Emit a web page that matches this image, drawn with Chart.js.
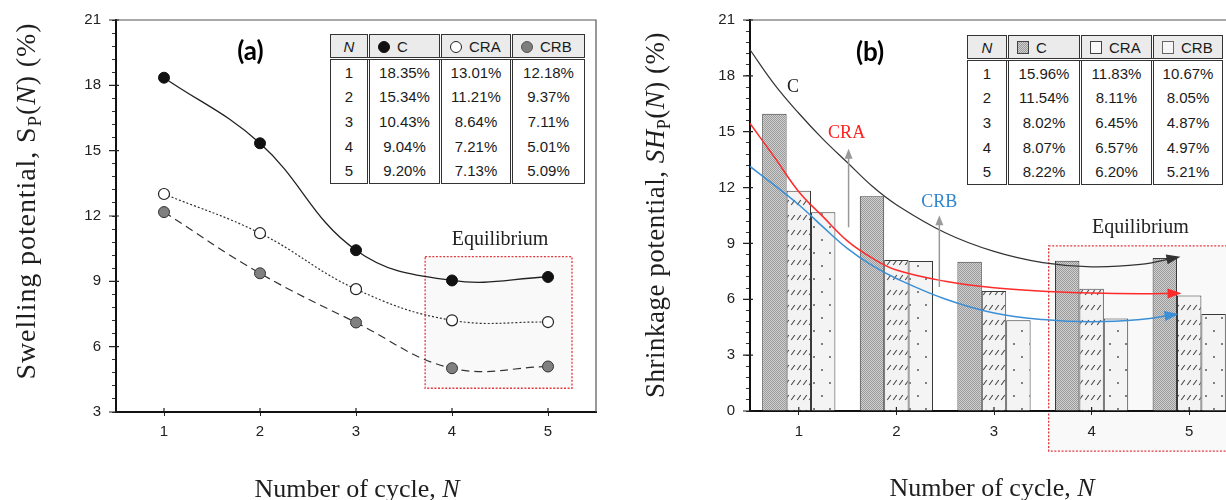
<!DOCTYPE html>
<html><head><meta charset="utf-8">
<script src="https://cdn.jsdelivr.net/npm/chart.js@4.4.1/dist/chart.umd.min.js"></script>
<style>
html,body{margin:0;padding:0;background:#fff;width:1226px;height:500px;overflow:hidden;position:relative}
#ca{position:absolute;left:0;top:0}
#cb,#cc{position:absolute;left:610px;top:0}
table.tb{position:absolute;border-collapse:collapse;table-layout:fixed;font-family:"Liberation Sans",Arial,sans-serif;font-size:15px;color:#1b1b1b;background:#fff;border:1.5px solid #333}
.tb td,.tb th{padding:0;text-align:center;font-weight:normal;line-height:1;white-space:nowrap;overflow:hidden}
.tb th{background:#ebebeb;height:22px;border-bottom:3px double #333}
.tb th.c{text-align:left;padding-left:8px}
.tb td{height:24.6px}
.tb .c{border-left:3px double #333}
.ic{display:inline-block;width:10px;height:10px;border-radius:50%;border:1.3px solid #222;margin-right:7px;vertical-align:-1px}
.sq{display:inline-block;width:10px;height:11px;border:1.2px solid #444;margin-right:7px;vertical-align:-1px}
</style>
</head><body>
<canvas id="ca" width="610" height="500"></canvas>
<canvas id="cb" width="700" height="500"></canvas>
<canvas id="cc" width="700" height="500"></canvas>
<script>
// ---------- data ----------
const cycles = [1, 2, 3, 4, 5];
const seriesNames = ['C', 'CRA', 'CRB'];
// (a) swelling potential (%)
const swellC   = [18.35, 15.34, 10.43, 9.04, 9.20];
const swellCRA = [13.01, 11.21, 8.64, 7.21, 7.13];
const swellCRB = [12.18, 9.37, 7.11, 5.01, 5.09];
// (b) shrinkage potential (%)
const shrinkC   = [15.96, 11.54, 8.02, 8.07, 8.22];
const shrinkCRA = [11.83, 8.11, 6.45, 6.57, 6.20];
const shrinkCRB = [10.67, 8.05, 4.87, 4.97, 5.21];
// (b) trend curves
const trendC_x   = [0.5, 0.75, 1.0, 1.25, 1.5, 1.75, 2.0, 2.5, 3.0, 3.5, 4.0, 4.5, 4.85];
const trendC_y   = [19.35, 17.5, 15.95, 14.55, 13.3, 12.05, 11.05, 9.55, 8.55, 7.95, 7.72, 7.85, 8.2];
const trendCRA_x = [0.5, 0.75, 1.0, 1.25, 1.5, 1.75, 2.0, 2.5, 3.0, 3.5, 4.0, 4.5, 4.86];
const trendCRA_y = [15.4, 13.6, 11.75, 10.4, 9.1, 8.2, 7.55, 6.95, 6.6, 6.42, 6.32, 6.28, 6.3];
const trendCRB_x = [0.5, 0.75, 1.0, 1.25, 1.5, 1.75, 2.0, 2.5, 3.0, 3.5, 4.0, 4.5, 4.83];
const trendCRB_y = [13.1, 12.1, 11.05, 9.85, 8.7, 7.8, 7.1, 6.0, 5.25, 4.9, 4.78, 4.9, 5.15];
// tick labels
const xTicks  = [1, 2, 3, 4, 5];
const yTicksA = [3, 6, 9, 12, 15, 18, 21];
const yTicksB = [0, 3, 6, 9, 12, 15, 18, 21];

// ---------- annotations (data coordinates) ----------
const eqBoxA = {x0: 3.72, x1: 5.25, y0: 4.09, y1: 10.13};
const eqBoxB = {x0: 3.56, x1: 6.2, y0: -2.15, y1: 8.87};
const arrowsB = [{x: 1.51, from: 9.84, to: 14.05}, {x: 2.44, from: 6.64, to: 10.48}];

const SERIF = '"Liberation Serif","Times New Roman",serif';
const SANS = '"Liberation Sans",Arial,sans-serif';

function withMinor(majors, n) {
  const out = [];
  for (let i = 0; i < majors.length; i++) {
    out.push({value: majors[i]});
    if (i < majors.length - 1) {
      const st = (majors[i + 1] - majors[i]) / n;
      for (let j = 1; j < n; j++) out.push({value: majors[i] + j * st});
    }
  }
  return out;
}

function drawRich(ctx, segs, cx, cy, size, rot, spacing) {
  ctx.save();
  ctx.translate(cx, cy);
  if (rot) ctx.rotate(rot);
  try { ctx.letterSpacing = (spacing || 0) + 'px'; } catch (e) {}
  const fonts = segs.map(s => (s.it ? 'italic ' : '') + (s.sub ? Math.round(size * 0.68) : size) + 'px ' + SERIF);
  let total = 0; const w = [];
  segs.forEach((s, i) => { ctx.font = fonts[i]; w[i] = ctx.measureText(s.t).width; total += w[i]; });
  let x = -total / 2;
  ctx.textBaseline = 'alphabetic'; ctx.fillStyle = '#1e1e1e';
  segs.forEach((s, i) => { ctx.font = fonts[i]; ctx.fillText(s.t, x, size * 0.34 + (s.sub ? size * 0.22 : 0)); x += w[i]; });
  ctx.restore();
}

function drawText(ctx, t, x, y, font, color) {
  ctx.save(); ctx.font = font; ctx.fillStyle = color; ctx.textAlign = 'center'; ctx.textBaseline = 'middle';
  ctx.fillText(t, x, y); ctx.restore();
}

function drawBox(ctx, xpx, y, b) {
  const x0 = xpx(b.x0), x1 = xpx(b.x1);
  const y0 = y.getPixelForValue(b.y0), y1 = y.getPixelForValue(b.y1);
  ctx.save();
  ctx.fillStyle = '#f9f9f9'; ctx.fillRect(x0, y1, x1 - x0, y0 - y1);
  ctx.strokeStyle = '#e23a3f'; ctx.lineWidth = 1.3; ctx.setLineDash([2, 1.6]);
  ctx.strokeRect(x0, y1, x1 - x0, y0 - y1);
  ctx.restore();
}

function drawFrameAndTicks(chart, yMajors, xpx) {
  const {ctx, chartArea: a} = chart; const y = chart.scales.y;
  ctx.save();
  ctx.strokeStyle = '#555'; ctx.lineWidth = 1.2;
  ctx.beginPath(); ctx.moveTo(a.left, a.top); ctx.lineTo(a.right, a.top); ctx.lineTo(a.right, a.bottom); ctx.stroke();
  ctx.strokeStyle = '#222'; ctx.lineWidth = 1.2;
  ctx.beginPath();
  yMajors.forEach(v => { const p = y.getPixelForValue(v); ctx.moveTo(a.left - 7, p); ctx.lineTo(a.left + 3, p); });
  xTicks.forEach(v => { const p = xpx(v); ctx.moveTo(p, a.bottom - 4); ctx.lineTo(p, a.bottom); });
  ctx.stroke();
  ctx.restore();
}

// ---------- chart (a) ----------
const decorA = {
  id: 'decorA',
  beforeDraw(chart) { drawBox(chart.ctx, v => chart.scales.x.getPixelForValue(v), chart.scales.y, eqBoxA); },
  afterDraw(chart) {
    const {ctx} = chart; const x = chart.scales.x, y = chart.scales.y;
    drawFrameAndTicks(chart, yTicksA, v => x.getPixelForValue(v));
    drawText(ctx, '(a)', x.getPixelForValue(1.9), y.getPixelForValue(19.54), 'bold 26px Lato, "Open Sans", sans-serif', '#000');
    drawText(ctx, 'Equilibrium', x.getPixelForValue(4.5), y.getPixelForValue(10.93), '20px ' + SERIF, '#222');
    drawRich(ctx, [{t: 'Swelling potential, '}, {t: 'S'}, {t: 'P', sub: true}, {t: '('}, {t: 'N', it: true}, {t: ') (%)'}], 25, 201, 28, -Math.PI / 2, 0.9);
    drawRich(ctx, [{t: 'Number of cycle, '}, {t: 'N', it: true}], 357, 488, 26, 0, 0);
  }
};

const ptA = (arr) => cycles.map((c, i) => ({x: c, y: arr[i]}));
new Chart(document.getElementById('ca'), {
  type: 'line',
  data: {
    datasets: [
      {label: seriesNames[0], data: ptA(swellC), borderColor: '#222', borderWidth: 1.3, tension: 0.4,
       pointRadius: 5.5, pointBackgroundColor: '#111', pointBorderColor: '#111', pointBorderWidth: 1},
      {label: seriesNames[1], data: ptA(swellCRA), borderColor: '#333', borderWidth: 1.2, borderDash: [2, 2], tension: 0.4,
       pointRadius: 5.5, pointBackgroundColor: '#fff', pointBorderColor: '#222', pointBorderWidth: 1.2},
      {label: seriesNames[2], data: ptA(swellCRB), borderColor: '#333', borderWidth: 1.2, borderDash: [8, 5], tension: 0.4,
       pointRadius: 5.5, pointBackgroundColor: '#808080', pointBorderColor: '#333', pointBorderWidth: 1}
    ]
  },
  options: {
    responsive: false, animation: false, events: [],
    layout: {padding: {top: 20, right: 14, left: 0, bottom: 0}},
    plugins: {legend: {display: false}, tooltip: {enabled: false}},
    scales: {
      x: {type: 'linear', min: 0.5, max: 5.5,
          afterBuildTicks: s => { s.ticks = xTicks.map(v => ({value: v})); },
          afterFit: s => { s.height = 88; },
          ticks: {font: {family: SANS, size: 15}, color: '#222', padding: 7},
          grid: {drawOnChartArea: false, tickLength: 4, tickColor: '#222'},
          border: {color: '#111', width: 2}},
      y: {type: 'linear', min: 3, max: 21,
          afterBuildTicks: s => { s.ticks = withMinor(yTicksA, 5); },
          afterFit: s => { s.width = 116; },
          ticks: {autoSkip: false, font: {family: SANS, size: 15}, color: '#222', padding: 11,
                  callback: v => yTicksA.includes(v) ? String(v) : ''},
          grid: {drawOnChartArea: false, tickLength: 4, tickColor: '#333'},
          border: {color: '#111', width: 2}}
    }
  },
  plugins: [decorA]
});

// ---------- chart (b): bars ----------
const cbCtx = document.getElementById('cb').getContext('2d');
function makePattern(kind) {
  const c = document.createElement('canvas'); const g = c.getContext('2d');
  if (kind === 'C') {
    c.width = 2; c.height = 2; g.fillStyle = '#d0d0d0'; g.fillRect(0, 0, 2, 2);
    g.fillStyle = '#9a9a9a'; g.fillRect(0, 0, 1, 1); g.fillRect(1, 1, 1, 1);
  } else if (kind === 'CRA') {
    c.width = 6; c.height = 15; g.fillStyle = '#f3f3f3'; g.fillRect(0, 0, 6, 15);
    g.strokeStyle = '#4a4a4a'; g.lineWidth = 1.1; g.beginPath(); g.moveTo(1.2, 10); g.lineTo(4.8, 5); g.stroke();
  } else {
    c.width = 16; c.height = 26; g.fillStyle = '#f4f4f4'; g.fillRect(0, 0, 16, 26);
    g.fillStyle = '#5a5a5a'; g.beginPath(); g.arc(4, 6, 1, 0, 7); g.fill(); g.beginPath(); g.arc(12, 19, 1, 0, 7); g.fill();
  }
  return cbCtx.createPattern(c, 'repeat');
}

const barSeries = [shrinkC, shrinkCRA, shrinkCRB];
const patterns = [makePattern('C'), makePattern('CRA'), makePattern('CRB')];
const catPx = (chart) => (v => chart.scales.x.getPixelForValue(v - 1));

const decorBBars = {
  id: 'decorBBars',
  beforeDraw(chart) { drawBox(chart.ctx, catPx(chart), chart.scales.y, eqBoxB); },
  afterDraw(chart) {
    const {ctx} = chart;
    drawFrameAndTicks(chart, yTicksB, catPx(chart));
    drawRich(ctx, [{t: 'Shrinkage potential, '}, {t: 'SH', it: true}, {t: 'P', sub: true}, {t: '('}, {t: 'N', it: true}, {t: ') (%)'}], 45, 215, 27, -Math.PI / 2, 0.5);
    drawRich(ctx, [{t: 'Number of cycle, '}, {t: 'N', it: true}], 382, 487, 26, 0, 0);
  }
};

new Chart(cbCtx, {
  type: 'bar',
  data: {
    labels: cycles.map(String),
    datasets: barSeries.map((s, i) => ({label: seriesNames[i], data: s, backgroundColor: patterns[i],
      borderColor: '#3a3a3a', borderWidth: 1, borderSkipped: 'bottom'}))
  },
  options: {
    responsive: false, animation: false, events: [],
    categoryPercentage: 0.75, barPercentage: 1.0,
    layout: {padding: {top: 19, right: 72, left: 0, bottom: 0}},
    plugins: {legend: {display: false}, tooltip: {enabled: false}},
    scales: {
      x: {type: 'category', offset: true,
          afterFit: s => { s.height = 89; },
          ticks: {font: {family: SANS, size: 15}, color: '#222', padding: 8},
          grid: {offset: false, drawOnChartArea: false, tickLength: 4, tickColor: '#222'},
          border: {color: '#111', width: 2}},
      y: {type: 'linear', min: 0, max: 21,
          afterBuildTicks: s => { s.ticks = withMinor(yTicksB, 5); },
          afterFit: s => { s.width = 140; },
          ticks: {autoSkip: false, font: {family: SANS, size: 15}, color: '#222', padding: 11,
                  callback: v => yTicksB.includes(v) ? String(v) : ''},
          grid: {drawOnChartArea: false, tickLength: 4, tickColor: '#333'},
          border: {color: '#111', width: 2}}
    }
  },
  plugins: [decorBBars]
});

// ---------- chart (b): trend curves overlay ----------
const trendColors = ['#333333', '#ff2b2b', '#3a8fd6'];
const trends = [[trendC_x, trendC_y], [trendCRA_x, trendCRA_y], [trendCRB_x, trendCRB_y]];

const decorBLines = {
  id: 'decorBLines',
  afterDatasetsDraw(chart) {
    const {ctx} = chart; const x = chart.scales.x, y = chart.scales.y;
    trends.forEach((tr, k) => {
      const n = tr[0].length;
      const px = x.getPixelForValue(tr[0][n - 1]), py = y.getPixelForValue(tr[1][n - 1]);
      const qx = x.getPixelForValue(tr[0][n - 2]), qy = y.getPixelForValue(tr[1][n - 2]);
      const ang = Math.atan2(py - qy, px - qx);
      ctx.save(); ctx.translate(px, py); ctx.rotate(ang); ctx.fillStyle = trendColors[k];
      ctx.beginPath(); ctx.moveTo(6, 0); ctx.lineTo(-8, -5); ctx.lineTo(-8, 5); ctx.closePath(); ctx.fill(); ctx.restore();
    });
    arrowsB.forEach(a => {
      const px = x.getPixelForValue(a.x), p0 = y.getPixelForValue(a.from), p1 = y.getPixelForValue(a.to);
      ctx.save(); ctx.strokeStyle = '#9a9a9a'; ctx.fillStyle = '#9a9a9a'; ctx.lineWidth = 1.5;
      ctx.beginPath(); ctx.moveTo(px, p0); ctx.lineTo(px, p1 + 8); ctx.stroke();
      ctx.beginPath(); ctx.moveTo(px, p1); ctx.lineTo(px - 4, p1 + 10); ctx.lineTo(px + 4, p1 + 10); ctx.closePath(); ctx.fill();
      ctx.restore();
    });
    drawText(ctx, '(b)', x.getPixelForValue(1.73), y.getPixelForValue(19.2), 'bold 26px Lato, "Open Sans", sans-serif', '#000');
    drawText(ctx, 'C', x.getPixelForValue(0.94), y.getPixelForValue(17.34), '18px ' + SERIF, '#222');
    drawText(ctx, 'CRA', x.getPixelForValue(1.49), y.getPixelForValue(14.86), '18px ' + SERIF, '#ff2020');
    drawText(ctx, 'CRB', x.getPixelForValue(2.44), y.getPixelForValue(11.19), '18px ' + SERIF, '#2f86cf');
    drawText(ctx, 'Equilibrium', x.getPixelForValue(4.5), y.getPixelForValue(9.83), '20px ' + SERIF, '#222');
  }
};

new Chart(document.getElementById('cc'), {
  type: 'line',
  data: {
    datasets: trends.map((tr, k) => ({label: seriesNames[k] + ' trend',
      data: tr[0].map((xv, i) => ({x: xv, y: tr[1][i]})), borderColor: trendColors[k],
      borderWidth: k === 0 ? 1.2 : 1.5, pointRadius: 0, tension: 0.4, fill: false}))
  },
  options: {
    responsive: false, animation: false, events: [],
    layout: {padding: {top: 19, right: 72, left: 140, bottom: 89}},
    plugins: {legend: {display: false}, tooltip: {enabled: false}},
    scales: {
      x: {type: 'linear', min: 0.5, max: 5.5, offset: false, display: false},
      y: {type: 'linear', min: 0, max: 21, display: false}
    }
  },
  plugins: [decorBLines]
});

// ---------- tables ----------
function buildTable(pos, cols, icons, series) {
  const t = document.createElement('table'); t.className = 'tb';
  Object.assign(t.style, {left: pos.left + 'px', top: pos.top + 'px', width: pos.width + 'px'});
  let html = '<colgroup>' + cols.map(w => `<col style="width:${w}px">`).join('') + '</colgroup>';
  html += '<tr><th><i>N</i></th>' + seriesNames.map((n, i) => `<th class="c">${icons[i]}${n}</th>`).join('') + '</tr>';
  cycles.forEach((c, r) => {
    html += `<tr><td>${c}</td>` + series.map(s => `<td class="c">${s[r].toFixed(2)}%</td>`).join('') + '</tr>';
  });
  t.innerHTML = html; document.body.appendChild(t);
}
buildTable({left: 330, top: 34, width: 254}, [38, 72, 71, 73],
  ['<span class="ic" style="background:#111;border-color:#111"></span>',
   '<span class="ic" style="background:#fff"></span>',
   '<span class="ic" style="background:#7d7d7d;border-color:#555"></span>'],
  [swellC, swellCRA, swellCRB]);
buildTable({left: 967, top: 35, width: 255}, [40, 73, 72, 70],
  ['<span class="sq" style="background:repeating-conic-gradient(#9a9a9a 0 25%,#d0d0d0 0 50%) 0 0/2px 2px"></span>',
   '<span class="sq" style="background:#fafafa"></span>',
   '<span class="sq" style="background:#f6f6f6;border-color:#666"></span>'],
  [shrinkC, shrinkCRA, shrinkCRB]);
</script>
</body></html>
